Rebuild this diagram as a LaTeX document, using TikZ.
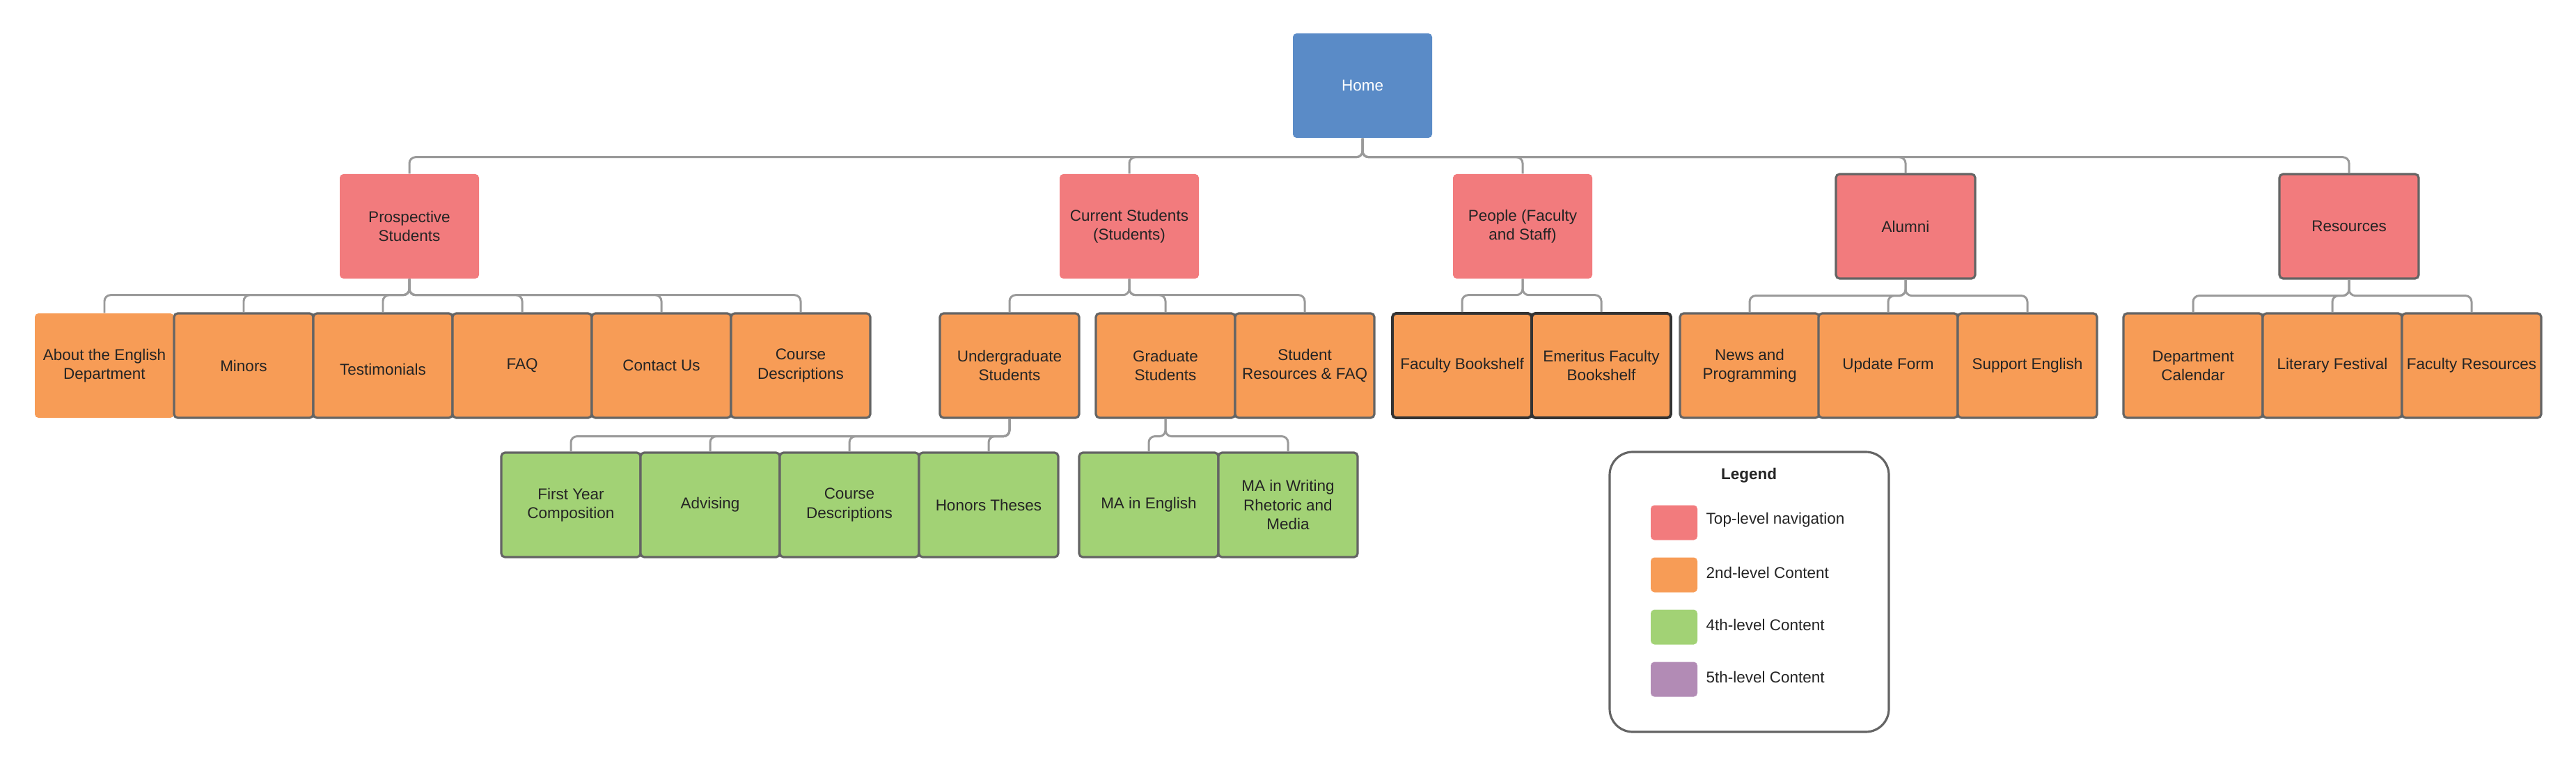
\documentclass[tikz,border=0pt]{standalone}
\usepackage{fontspec}
\setmainfont{Liberation Sans}
\definecolor{homeblue}{HTML}{5A8BC7}
\definecolor{topred}{HTML}{F27B7D}
\definecolor{secorange}{HTML}{F79C56}
\definecolor{fourgreen}{HTML}{A2D275}
\definecolor{fivepurple}{HTML}{B28BB5}
\definecolor{linkgray}{HTML}{9A9A9A}
\definecolor{edgegray}{HTML}{646464}
\definecolor{darkedge}{HTML}{333333}
\definecolor{textgray}{HTML}{242424}
\begin{document}
\begin{tikzpicture}[
  every node/.style={font=\fontsize{6.4}{7.7}\selectfont, text=textgray, align=center},
  page/.style={minimum width=2cm, minimum height=1.5cm, inner sep=0pt, rounded corners=1.5pt},
  homepage/.style={page, fill=homeblue, text=white},
  toppage/.style={page, fill=topred},
  secpage/.style={page, fill=secorange},
  fourpage/.style={page, fill=fourgreen},
  edged/.style={draw=edgegray, line width=0.9pt},
  darkedged/.style={draw=darkedge, line width=1.1pt},
  link/.style={draw=linkgray, line width=0.85pt, rounded corners=2.5pt},
  swatch/.style={minimum width=0.67cm, minimum height=0.5cm, inner sep=0pt, rounded corners=1.5pt}
]
\useasboundingbox (0,0) rectangle (37,-11);

\node[homepage] (home) at (19.57,-1.23) {Home};

\node[toppage] (prosp) at (5.88,-3.25) {Prospective\\Students};
\node[toppage] (current) at (16.22,-3.25) {Current Students\\(Students)};
\node[toppage] (people) at (21.87,-3.25) {People (Faculty\\and Staff)};
\node[toppage, edged] (alumni) at (27.37,-3.25) {Alumni};
\node[toppage, edged] (resources) at (33.74,-3.25) {Resources};

\node[secpage] (about) at (1.5,-5.25) {About the English\\Department};
\node[secpage, edged] (minors) at (3.5,-5.25) {Minors};
\node[secpage, edged] (testi) at (5.5,-5.25) {\mbox{}\\Testimonials};
\node[secpage, edged] (faq) at (7.5,-5.25) {FAQ};
\node[secpage, edged] (contact) at (9.5,-5.25) {Contact Us};
\node[secpage, edged] (prospcourses) at (11.5,-5.25) {Course\\Descriptions};

\node[secpage, edged] (undergrad) at (14.5,-5.25) {Undergraduate\\Students};
\node[secpage, edged] (grad) at (16.74,-5.25) {Graduate\\Students};
\node[secpage, edged] (stures) at (18.74,-5.25) {Student\\Resources \& FAQ};

\node[secpage, darkedged] (facbook) at (21.0,-5.25) {Faculty Bookshelf};
\node[secpage, darkedged] (emeritus) at (23.0,-5.25) {Emeritus Faculty\\Bookshelf};

\node[secpage, edged] (news) at (25.13,-5.25) {News and\\Programming};
\node[secpage, edged] (update) at (27.12,-5.25) {Update Form};
\node[secpage, edged] (support) at (29.12,-5.25) {Support English};

\node[secpage, edged] (deptcal) at (31.5,-5.25) {Department\\Calendar};
\node[secpage, edged] (litfest) at (33.5,-5.25) {Literary Festival};
\node[secpage, edged] (facres) at (35.5,-5.25) {Faculty Resources};

\node[fourpage, edged] (firstyear) at (8.2,-7.25) {First Year\\Composition};
\node[fourpage, edged] (advising) at (10.2,-7.25) {Advising};
\node[fourpage, edged] (ugcourses) at (12.2,-7.25) {Course\\Descriptions};
\node[fourpage, edged] (honors) at (14.2,-7.25) {Honors Theses};

\node[fourpage, edged] (maeng) at (16.5,-7.25) {MA in English};
\node[fourpage, edged] (mawrite) at (18.5,-7.25) {MA in Writing\\Rhetoric and\\Media};

\foreach \c in {prosp,current,people,alumni,resources}
  \draw[link] (home.south) -- ++(0,-0.27) -| (\c.north);
\foreach \c in {about,minors,testi,faq,contact,prospcourses}
  \draw[link] (prosp.south) -- ++(0,-0.23) -| (\c.north);
\foreach \c in {undergrad,grad,stures}
  \draw[link] (current.south) -- ++(0,-0.23) -| (\c.north);
\foreach \c in {facbook,emeritus}
  \draw[link] (people.south) -- ++(0,-0.23) -| (\c.north);
\foreach \c in {news,update,support}
  \draw[link] (alumni.south) -- ++(0,-0.23) -| (\c.north);
\foreach \c in {deptcal,litfest,facres}
  \draw[link] (resources.south) -- ++(0,-0.23) -| (\c.north);
\foreach \c in {firstyear,advising,ugcourses,honors}
  \draw[link] (undergrad.south) -- ++(0,-0.25) -| (\c.north);
\foreach \c in {maeng,mawrite}
  \draw[link] (grad.south) -- ++(0,-0.25) -| (\c.north);

\node[draw=edgegray, line width=0.9pt, rounded corners=0.33cm, minimum width=4.01cm, minimum height=4.02cm] (legend) at (25.125,-8.5) {};
\node[font=\fontsize{6.4}{7.7}\selectfont\bfseries] (legtitle) at (25.12,-6.83) {Legend};
\node[swatch, fill=topred] (swtop) at (24.045,-7.505) {};
\node[swatch, fill=secorange] (swsec) at (24.045,-8.255) {};
\node[swatch, fill=fourgreen] (swfour) at (24.045,-9.005) {};
\node[swatch, fill=fivepurple] (swfive) at (24.045,-9.755) {};
\node[anchor=west, inner sep=0pt] (labtop) at (24.5,-7.47) {Top-level navigation};
\node[anchor=west, inner sep=0pt] (labsec) at (24.5,-8.22) {2nd-level Content};
\node[anchor=west, inner sep=0pt] (labfour) at (24.5,-8.97) {4th-level Content};
\node[anchor=west, inner sep=0pt] (labfive) at (24.5,-9.72) {5th-level Content};
\end{tikzpicture}
\end{document}
